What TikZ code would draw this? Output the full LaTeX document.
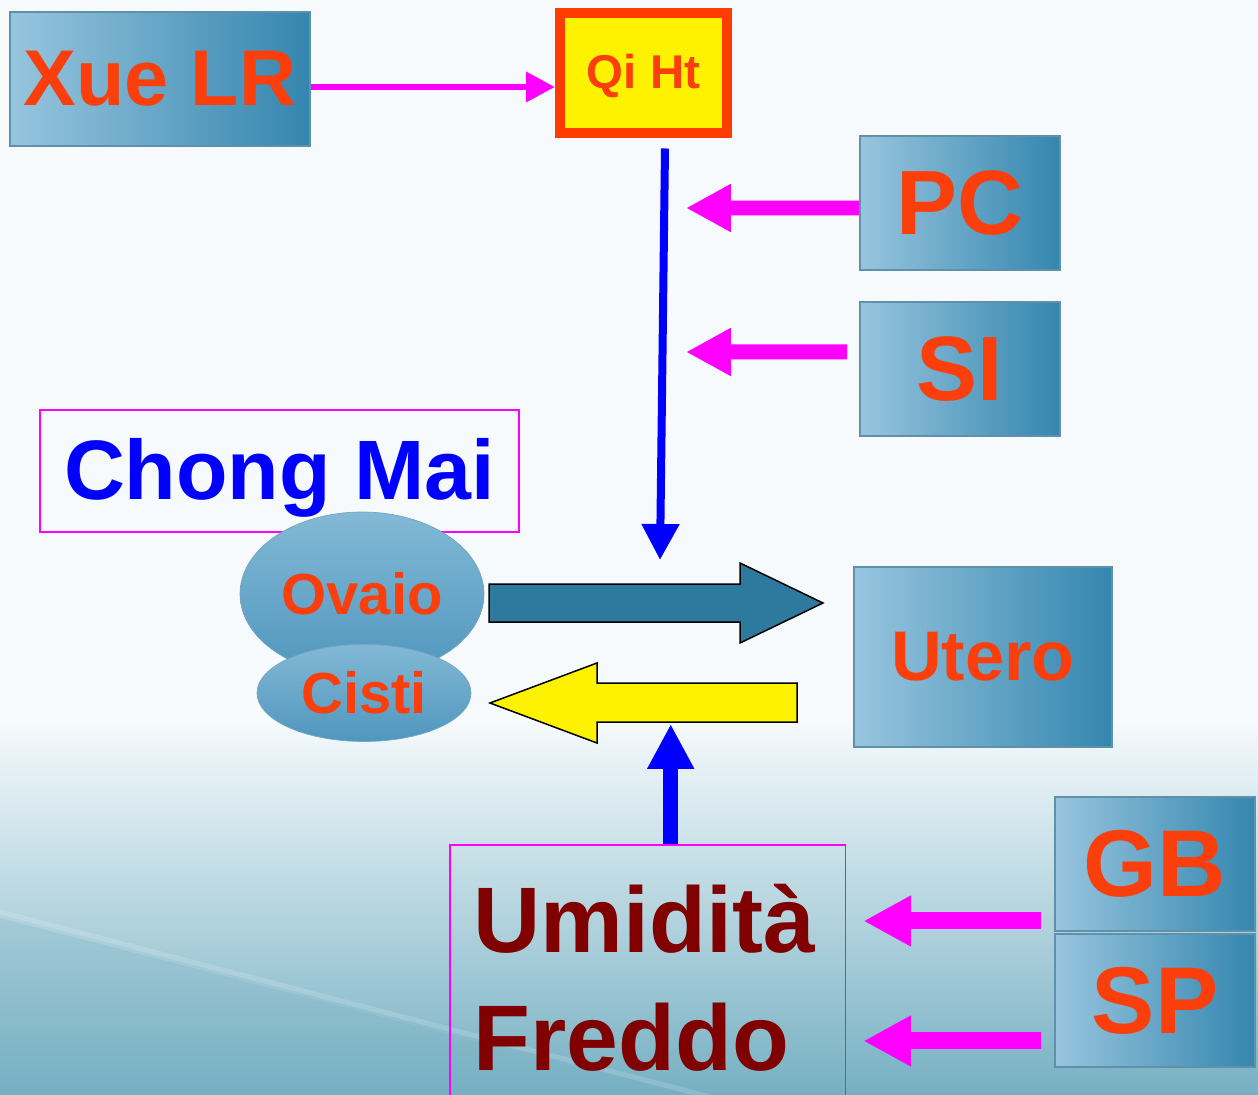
\documentclass[tikz,border=0pt]{standalone}
\usepackage{fontspec}
\setmainfont{Liberation Sans}
\usetikzlibrary{positioning,shapes.geometric,arrows.meta}
\definecolor{bgtop}{RGB}{246,250,252}
\definecolor{bgbottom}{RGB}{118,176,195}
\definecolor{boxlight}{RGB}{152,197,222}
\definecolor{boxdark}{RGB}{52,134,175}
\definecolor{boxedge}{RGB}{95,145,170}
\definecolor{bloblight}{RGB}{130,185,214}
\definecolor{blobdark}{RGB}{80,150,190}
\definecolor{blobedge}{RGB}{120,165,190}
\definecolor{txtred}{RGB}{250,62,12}
\definecolor{qired}{RGB}{255,60,0}
\definecolor{umidred}{RGB}{128,0,0}
\definecolor{tealarrow}{RGB}{46,122,158}
\definecolor{fucsia}{RGB}{255,0,255}
\definecolor{puroblu}{RGB}{0,0,255}

\begin{document}
\begin{tikzpicture}[x=0.02cm, y=-0.02cm]
    \tikzset{
    block/.style={
        rectangle,
        draw=boxedge,
        line width=0.04cm,
        left color=boxlight,
        right color=boxdark,
        text=txtred,
        font=\bfseries\fontsize{52}{56}\selectfont,
        minimum width=4cm,
        minimum height=2.68cm,
        align=center
    },
    blob/.style={
        ellipse,
        draw=blobedge,
        top color=bloblight,
        bottom color=blobdark,
        text=txtred,
        font=\bfseries\fontsize{33}{36}\selectfont,
        inner sep=0pt
    },
    frame/.style={
        rectangle,
        draw=fucsia,
        line width=0.03cm
    },
    arrow/.style={
        -{Triangle[length=#1, width=#1]}, draw=fucsia
    },
    bigarrow/.style={
        draw=black, line width=0.03cm
    }
}
    % Sfondo
    \clip (0,0) rectangle (1258,1095);
    \fill[bgtop] (0,0) rectangle (1258,1095);
    \shade[top color=bgtop, bottom color=bgbottom] (0,720) rectangle (1258,1095);
    \fill[bgbottom, opacity=0.25] (0,918) -- (760,1115) -- (0,1115) -- cycle;
    \draw[white, opacity=0.15, line width=0.1cm] (0,912) -- (760,1110);

    \node[block, minimum width=6cm, font=\bfseries\fontsize{45}{50}\selectfont] (xue) at (160,79) {Xue LR};
    \node[draw=qired, line width=0.2cm, fill=yellow, text=txtred, font=\bfseries\fontsize{27}{30}\selectfont,
          text height=0.62cm, text depth=0cm,
          minimum width=3.34cm, minimum height=2.42cm] (qi) at (643.5,73) {Qi Ht};
    \node[block] (pc) at (960,203) {PC};
    \node[block, below of=pc, node distance=3.32cm] (si) {SI};

    \node[frame, text=puroblu, font=\bfseries\fontsize{48}{52}\selectfont, text height=1.14cm, text depth=0cm,
          minimum width=9.58cm, minimum height=2.44cm] (chong) at (279.5,471) {Chong Mai};
    \node[blob, minimum width=4.88cm, minimum height=3.28cm] (ovaio) at (362,594) {Ovaio};
    \node[blob, below of=ovaio, node distance=1.98cm, xshift=0.04cm,
          minimum width=4.28cm, minimum height=1.94cm] (cisti) {Cisti};

    % frecce grandi
    \draw[bigarrow, fill=tealarrow] (489,584) -- (740,584) -- (740,563) -- (823,603)
        -- (740,643) -- (740,622) -- (489,622) -- cycle;
    \draw[bigarrow, fill=yellow] (797,683) -- (597,683) -- (597,663) -- (490,703)
        -- (597,743) -- (597,722) -- (797,722) -- cycle;
    \coordinate (fwd) at (660,560);
    \coordinate (back) at (670,724);

    \node[block, minimum width=5.16cm, minimum height=3.6cm, font=\bfseries\fontsize{40}{44}\selectfont] (utero) at (983,657) {Utero};

    \node[frame, anchor=north west, text=umidred, font=\bfseries\fontsize{53}{67}\selectfont,
          align=left, text width=6.96cm, inner xsep=0.48cm, minimum height=5.32cm] (umid) at (449,844) {Umidità\\Freddo};

    \node[block, minimum height=2.7cm, font=\bfseries\fontsize{54}{58}\selectfont] (gb) at (1155,864) {GB};
    \node[block, below of=gb, node distance=2.74cm, minimum height=2.66cm, font=\bfseries\fontsize{54}{58}\selectfont] (sp) {SP};

    % Frecce
    \coordinate (xa) at ([yshift=-0.16cm]xue.east);
    \draw[arrow=0.58cm, line width=0.13cm] (xa) -- (xa -| qi.west);

    \coordinate (qa) at ([xshift=0.43cm, yshift=-0.2cm]qi.south);
    \draw[puroblu, line width=0.16cm, -{Triangle[length=0.72cm, width=0.72cm]}] (qa) -- (fwd);

    \coordinate (pcend) at (686,208);
    \coordinate (siend) at (686,352);
    \draw[arrow=0.9cm, line width=0.3cm] ([yshift=-0.1cm]pc.west) -- (pcend);
    \draw[arrow=0.9cm, line width=0.3cm] ([xshift=-0.24cm, yshift=0.34cm]si.west) -- (siend);

    \coordinate (ub) at ([xshift=0.46cm]umid.north);
    \draw[puroblu, line width=0.3cm, -{Triangle[length=0.9cm, width=0.88cm]}] (ub) -- (ub |- back);

    \coordinate (ga) at ([xshift=-0.26cm, yshift=-1.14cm]gb.west);
    \coordinate (sa) at ([xshift=-0.26cm, yshift=-0.8cm]sp.west);
    \draw[arrow=0.95cm, line width=0.34cm, shorten >=0.34cm] (ga) -- (ga -| umid.east);
    \draw[arrow=0.95cm, line width=0.34cm, shorten >=0.34cm] (sa) -- (sa -| umid.east);
\end{tikzpicture}
\end{document}
